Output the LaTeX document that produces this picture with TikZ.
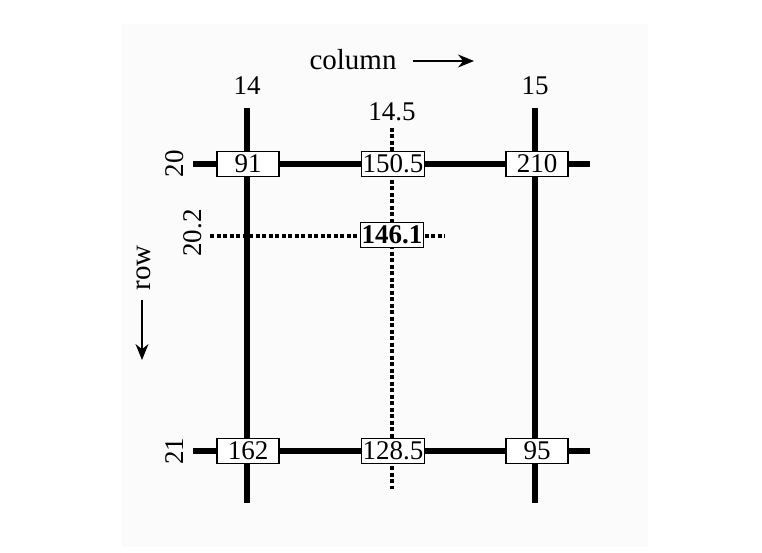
\documentclass[tikz,border=0pt]{standalone}
\usepackage{fontspec}
\setmainfont{Liberation Serif}
\usetikzlibrary{arrows.meta}
\definecolor{fons}{RGB}{251,251,251}

\begin{document}
\begin{tikzpicture}[x=1pt,y=-1pt,font=\fontsize{27}{32}\selectfont,
  gridline/.style={line width=5.5pt},
  interp/.style={line width=3.5pt,dash pattern=on 4pt off 2.5pt},
  valbox/.style={draw,line width=1.3pt,fill=white,minimum width=62pt,
    minimum height=25pt,inner sep=1pt},
  dirarrow/.style={line width=1.5pt,-{Stealth[length=16pt,width=13pt]}}]
  % fons
  \useasboundingbox (0,0) rectangle (762,553);
  \fill[fons] (122,24) rectangle (648,547);
  % extrems de les linies
  \coordinate (c14t) at (247,108); \coordinate (c14b) at (247,503);
  \coordinate (c15t) at (535,108); \coordinate (c15b) at (535,503);
  \coordinate (cmt) at (392,128);  \coordinate (cmb) at (392,489);
  \coordinate (r20l) at (193,164); \coordinate (r20r) at (590,164);
  \coordinate (r21l) at (193,451); \coordinate (r21r) at (590,451);
  \coordinate (rml) at (210,236);  \coordinate (rmr) at (445,236);
  % malla
  \draw[gridline] (c14t) -- (c14b);
  \draw[gridline] (c15t) -- (c15b);
  \draw[gridline] (r20l) -- (r20r);
  \draw[gridline] (r21l) -- (r21r);
  % linies interpolades (puntejades)
  \draw[interp] (cmt) -- (cmb);
  \draw[interp] (rml) -- (rmr);
  % valors
  \node[valbox] (v91)  at (248,164) {91};
  \node[valbox] (v150) at (393,164) {150.5};
  \node[valbox] (v210) at (537,164) {210};
  \node[valbox] (v146) at (392,235) {\bfseries 146.1};
  \node[valbox] (v162) at (248,451) {162};
  \node[valbox] (v128) at (393,451) {128.5};
  \node[valbox] (v95)  at (537,451) {95};
  % etiquetes
  \node (col14) at (247,86) {14};
  \node (col15) at (535,86) {15};
  \node (colm) at (392,112) {14.5};
  \node[rotate=90] (row20) at (175,164) {20};
  \node[rotate=90] (row21) at (175,451) {21};
  \node[rotate=90] (rowm) at (193,233) {20.2};
  \node[font=\fontsize{29}{34}\selectfont] (colname) at (353,60) {column};
  \coordinate (colA) at (413,61); \coordinate (colB) at (474,61);
  \draw[dirarrow] (colA) -- (colB);
  \node[rotate=90,font=\fontsize{29}{34}\selectfont] (rowname) at (144,268) {row};
  \coordinate (rowA) at (142,300); \coordinate (rowB) at (142,360);
  \draw[dirarrow] (rowA) -- (rowB);
\end{tikzpicture}
\end{document}
